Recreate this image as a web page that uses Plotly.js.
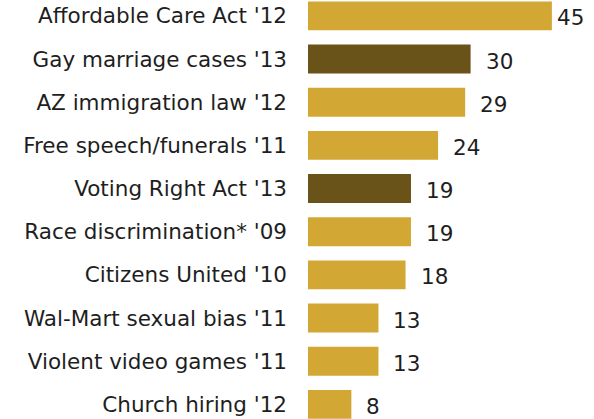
<!DOCTYPE html>
<html>
<head>
<meta charset="utf-8">
<script src="https://cdn.plot.ly/plotly-3.0.1.min.js"></script>
<style>html,body{margin:0;padding:0;background:#fff;}#chart{width:594px;height:419px;}</style>
</head>
<body>
<div id="chart"></div>
<script>
const categories = [
  "Affordable Care Act '12",
  "Gay marriage cases '13",
  "AZ immigration law '12",
  "Free speech/funerals '11",
  "Voting Right Act '13",
  "Race discrimination* '09",
  "Citizens United '10",
  "Wal-Mart sexual bias '11",
  "Violent video games '11",
  "Church hiring '12"
];
const values = [45, 30, 29, 24, 19, 19, 18, 13, 13, 8];
const highlighted = [false, true, false, false, true, false, false, false, false, false];

const GOLD = '#D3A733';
const DARK = '#6A5319';
const FONT = 'DejaVu Sans, Verdana, sans-serif';
const TEXT = '#1e1e1e';

const maxVal = Math.max(...values);

const trace = {
  type: 'bar',
  orientation: 'h',
  x: values,
  y: categories,
  marker: {color: highlighted.map(h => h ? DARK : GOLD)},
  hoverinfo: 'skip',
  cliponaxis: false
};

const annotations = values.map((v, i) => ({
  x: v, y: categories[i], xref: 'x', yref: 'y',
  text: String(v), showarrow: false,
  xanchor: 'left', yanchor: 'middle',
  xshift: v === maxVal ? 3 : 13, yshift: -2,
  font: {family: FONT, size: 21.5, color: TEXT}
}));

const layout = {
  width: 594, height: 419,
  margin: {l: 308, r: 0, t: 0, b: 0},
  paper_bgcolor: '#fff', plot_bgcolor: '#fff',
  showlegend: false,
  bargap: 0.33,
  xaxis: {range: [0, 52.77], showgrid: false, zeroline: false, showticklabels: false, ticks: '', showline: false},
  yaxis: {
    type: 'category', categoryorder: 'array', categoryarray: categories,
    range: [9.338, -0.368],
    showgrid: false, zeroline: false, ticks: '', showline: false,
    ticklabelstandoff: 20,
    tickfont: {family: FONT, size: 21.5, color: TEXT}
  },
  annotations: annotations
};

Plotly.newPlot('chart', [trace], layout, {displayModeBar: false, staticPlot: true});
</script>
</body>
</html>
